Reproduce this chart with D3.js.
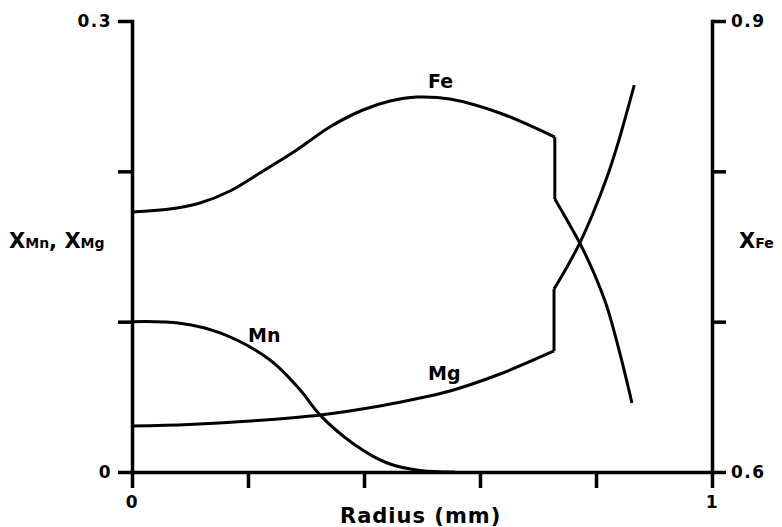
<!DOCTYPE html>
<html>
<head>
<meta charset="utf-8">
<script src="https://cdn.jsdelivr.net/npm/d3@7"></script>
<style>
  html, body { margin: 0; padding: 0; background: #fff; }
  svg { display: block; }
  text { font-family: "DejaVu Sans", "Liberation Sans", Arial, sans-serif; font-weight: bold; fill: #000; }
</style>
</head>
<body>
<svg id="chart" width="782" height="527"></svg>
<script>
// Garnet zoning profile: mole fractions against radius (mm)

// Fe (right axis) — core segment and rim segment, split at the discontinuity
const radiusFeCore = [0, 0.0655, 0.117, 0.169, 0.226, 0.284, 0.341, 0.398, 0.445, 0.491, 0.548, 0.634, 0.729];
const feCore       = [0.7729, 0.7749, 0.7789, 0.7869, 0.8002, 0.8142, 0.8295, 0.8408, 0.8468, 0.8494, 0.8481, 0.8388, 0.8228];
const radiusFeRim  = [0.729, 0.750, 0.772, 0.797, 0.819, 0.841, 0.862];
const feRim        = [0.7816, 0.7676, 0.7523, 0.7318, 0.7098, 0.6792, 0.6459];

// Mn (left axis)
const radiusMn = [0, 0.083, 0.152, 0.238, 0.290, 0.324, 0.381, 0.440, 0.497, 0.557];
const mn       = [0.100, 0.099, 0.0925, 0.0745, 0.0545, 0.038, 0.019, 0.006, 0.001, 0];

// Mg (left axis) — core and rim segments
const radiusMgCore = [0, 0.0983, 0.2034, 0.3241, 0.4276, 0.4966, 0.5483, 0.6345, 0.7276];
const mgCore       = [0.0306, 0.0316, 0.0339, 0.0379, 0.0439, 0.0492, 0.0539, 0.0652, 0.0805];
const radiusMgRim  = [0.7276, 0.750, 0.772, 0.795, 0.819, 0.838, 0.859, 0.866];
const mgRim        = [0.1217, 0.1364, 0.1523, 0.1723, 0.1962, 0.2188, 0.2475, 0.2574];

// Axis ticks and labels
const xTicks = [0, 0.2, 0.4, 0.6, 0.8, 1];
const xTickLabels = ["0", "", "", "", "", "1"];
const leftTicks = [0, 0.1, 0.2, 0.3];
const leftTickLabels = ["0", "", "", "0.3"];
const rightTicks = [0.6, 0.7, 0.8, 0.9];
const rightTickLabels = ["0.6", "", "", "0.9"];

const svg = d3.select("#chart");
const x = d3.scaleLinear().domain([0, 1]).range([132, 712]);
const yLeft = d3.scaleLinear().domain([0, 0.3]).range([472, 21]);
const yRight = d3.scaleLinear().domain([0.6, 0.9]).range([472, 21]);

const FONT = "'DejaVu Sans', 'Liberation Sans', Arial, sans-serif";

function styleAxis(g) {
  g.attr("font-size", 17).attr("font-family", FONT).attr("font-weight", "bold");
  g.select(".domain").attr("stroke", "#000").attr("stroke-width", 3.5).attr("stroke-linecap", "square");
  g.selectAll(".tick line").attr("stroke", "#000").attr("stroke-width", 3.5);
  g.selectAll(".tick text")
    .style("font-family", FONT).style("font-size", "17px").style("font-weight", "bold")
    .style("letter-spacing", "1.5px").attr("fill", "#000");
}

// Bottom axis
svg.append("g")
  .attr("transform", `translate(0,${yLeft(0)})`)
  .call(d3.axisBottom(x).tickValues(xTicks).tickSize(16).tickSizeOuter(0).tickPadding(8)
    .tickFormat((d, i) => xTickLabels[i]))
  .call(styleAxis);

// Left axis
svg.append("g")
  .attr("transform", `translate(${x(0)},0)`)
  .call(d3.axisLeft(yLeft).tickValues(leftTicks).tickSize(14).tickSizeOuter(0).tickPadding(6)
    .tickFormat((d, i) => leftTickLabels[i]))
  .call(styleAxis);

// Right axis
svg.append("g")
  .attr("transform", `translate(${x(1)},0)`)
  .call(d3.axisRight(yRight).tickValues(rightTicks).tickSize(14).tickSizeOuter(0).tickPadding(5)
    .tickFormat((d, i) => rightTickLabels[i]))
  .call(styleAxis);

// Curves
const curveStyle = p => p.attr("fill", "none").attr("stroke", "#000")
  .attr("stroke-width", 3).attr("stroke-linejoin", "round");

function drawSeries(xs, ys, yScale, smooth) {
  const pts = xs.map((r, i) => [r, ys[i]]);
  const line = d3.line().x(d => x(d[0])).y(d => yScale(d[1]))
    .curve(smooth ? d3.curveCatmullRom.alpha(0.5) : d3.curveLinear);
  svg.append("path").datum(pts).attr("d", line).call(curveStyle);
}

// Fe: core, jump, rim
drawSeries(radiusFeCore, feCore, yRight, true);
drawSeries([radiusFeCore[radiusFeCore.length - 1], radiusFeRim[0]],
           [feCore[feCore.length - 1], feRim[0]], yRight, false);
drawSeries(radiusFeRim, feRim, yRight, true);

// Mn
drawSeries(radiusMn, mn, yLeft, true);

// Mg: core, jump, rim
drawSeries(radiusMgCore, mgCore, yLeft, true);
drawSeries([radiusMgCore[radiusMgCore.length - 1], radiusMgRim[0]],
           [mgCore[mgCore.length - 1], mgRim[0]], yLeft, false);
drawSeries(radiusMgRim, mgRim, yLeft, true);

// Curve labels
const curveLabel = (txt, px, py) => svg.append("text")
  .attr("x", px).attr("y", py)
  .style("font-size", "19px")
  .text(txt);
curveLabel("Fe", 428, 88);
curveLabel("Mn", 248, 342);
curveLabel("Mg", 428, 380);

// Axis titles
const leftTitle = svg.append("text").attr("x", 9).attr("y", 248);
leftTitle.append("tspan").style("font-size", "21px").text("X");
leftTitle.append("tspan").style("font-size", "14px").text("Mn");
leftTitle.append("tspan").style("font-size", "21px").text(", X");
leftTitle.append("tspan").style("font-size", "14px").text("Mg");

const rightTitle = svg.append("text").attr("x", 739).attr("y", 248);
rightTitle.append("tspan").style("font-size", "21px").text("X");
rightTitle.append("tspan").style("font-size", "14px").text("Fe");

svg.append("text").attr("x", 340).attr("y", 523)
  .style("font-size", "21px").style("letter-spacing", "1px")
  .text("Radius (mm)");
</script>
</body>
</html>
